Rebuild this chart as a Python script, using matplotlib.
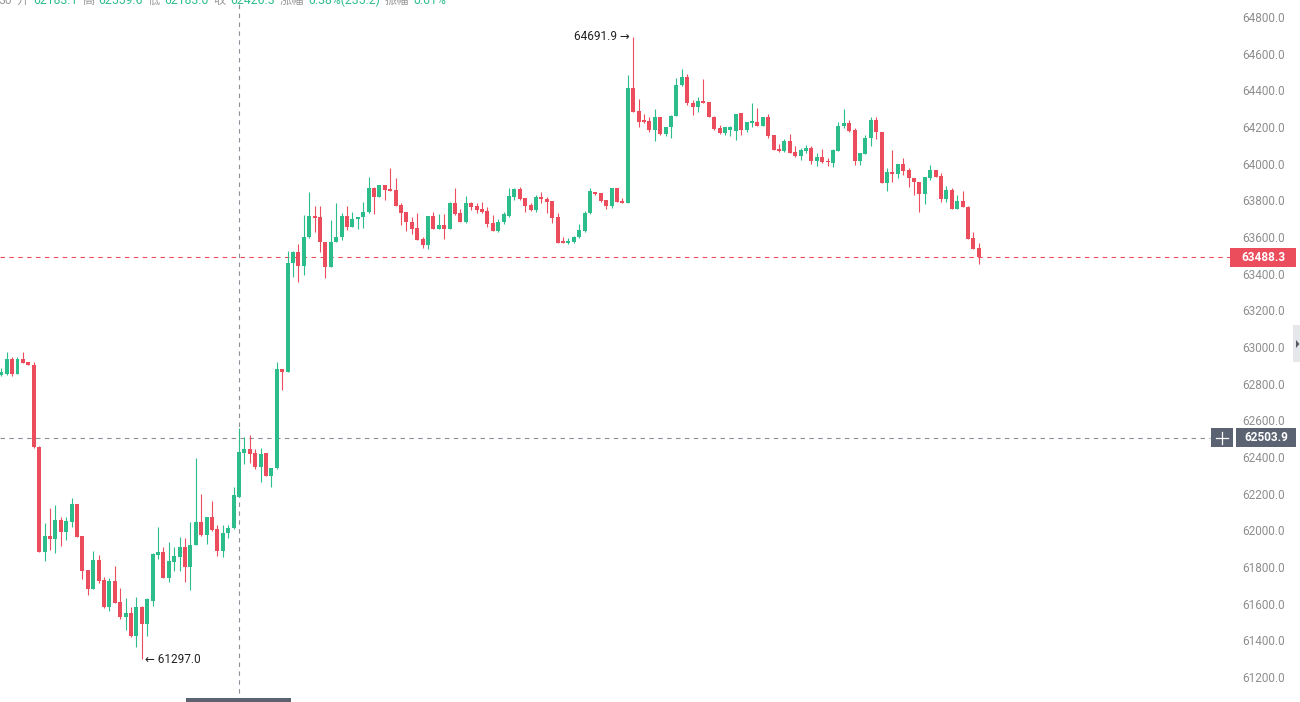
import matplotlib
matplotlib.use("Agg")
import matplotlib.pyplot as plt
import matplotlib.transforms as mtransforms
from matplotlib.patches import Rectangle, Polygon
from matplotlib.lines import Line2D
import numpy as np

# ---------------- data ----------------
opens = [62847, 62853, 62935, 62853, 62935, 62918, 62902, 62455, 61882, 61969,
         61953, 62056, 61991, 62045, 62144, 61969, 61784, 61680, 61838, 61729,
         61582, 61724, 61609, 61527, 61549, 61424, 61582, 61489, 61615, 61865,
         61882, 61740, 61827, 61855, 61909, 61800, 61920, 62045, 61975, 62073,
         62007, 61887, 61985, 62013, 62183.1, 62422, 62444, 62422, 62345, 62422,
         62296, 62340, 62880, 62864, 63458, 63518, 63442, 63600, 63714, 63709,
         63573, 63436, 63573, 63600, 63714, 63654, 63698, 63709, 63736, 63867,
         63818, 63884, 63862, 63856, 63775, 63736, 63682, 63649, 63589, 63556,
         63714, 63644, 63665, 63644, 63785, 63731, 63682, 63785, 63769, 63753,
         63742, 63676, 63633, 63682, 63714, 63818, 63862, 63813, 63775, 63747,
         63818, 63807, 63796, 63709, 63578, 63567, 63573, 63600, 63633, 63731,
         63845, 63840, 63802, 63769, 63867, 63796, 63785, 64413, 64287, 64238,
         64233, 64184, 64255, 64162, 64200, 64260, 64429, 64473, 64331, 64309,
         64342, 64336, 64255, 64195, 64167, 64184, 64178, 64276, 64184, 64222,
         64227, 64205, 64255, 64156, 64080, 64069, 64124, 64064, 64042, 64069,
         64085, 64015, 64036, 64015, 64004, 64069, 64205, 64222, 64184, 64015,
         64053, 64140, 64238, 64173, 63894, 63954, 63944, 63998, 63965, 63922,
         63900, 63834, 63922, 63965, 63933, 63807, 63856, 63753, 63796, 63764,
         63594, 63540]

highs = [62885, 62973, 62945, 62945, 62973, 62920, 62918, 62460, 62040, 62122,
         62138, 62073, 62073, 62176, 62146, 61971, 61786, 61887, 61865, 61745,
         61740, 61805, 61685, 61631, 61582, 61636, 61587, 61631, 61876, 62018,
         61909, 61936, 61909, 61964, 61958, 62045, 62395, 62198, 62073, 62160,
         62029, 62029, 62029, 62236, 62559.6, 62509, 62520, 62444, 62449, 62424,
         62340, 62918, 62882, 63524, 63524, 63562, 63720, 63845, 63769, 63769,
         63575, 63693, 63785, 63731, 63769, 63736, 63709, 63791, 63927, 63873,
         63884, 63886, 63976, 63922, 63785, 63738, 63709, 63731, 63600, 63714,
         63736, 63725, 63725, 63791, 63867, 63753, 63824, 63791, 63785, 63791,
         63764, 63720, 63698, 63736, 63867, 63867, 63873, 63815, 63785, 63829,
         63845, 63818, 63798, 63731, 63600, 63594, 63605, 63671, 63742, 63867,
         63847, 63842, 63804, 63867, 63869, 63813, 64484, 64691.9, 64353, 64271,
         64255, 64298, 64257, 64200, 64265, 64467, 64516, 64489, 64347, 64364,
         64462, 64338, 64260, 64211, 64200, 64205, 64271, 64278, 64227, 64331,
         64304, 64255, 64271, 64158, 64107, 64135, 64162, 64096, 64085, 64102,
         64096, 64058, 64080, 64031, 64080, 64227, 64298, 64238, 64195, 64058,
         64156, 64255, 64255, 64175, 63976, 64075, 63998, 64031, 63976, 63924,
         63902, 63927, 63993, 63967, 63949, 63878, 63867, 63829, 63851, 63769,
         63627, 63567]

lows = [62842, 62847, 62842, 62850, 62913, 62902, 62449, 61882, 61833, 61893,
        61876, 61915, 61947, 62018, 61964, 61735, 61647, 61678, 61713, 61576,
        61560, 61604, 61516, 61456, 61418, 61364, 61297.0, 61424, 61587, 61844,
        61740, 61718, 61778, 61778, 61718, 61675, 61918, 61969, 61925, 61996,
        61860, 61855, 61958, 62007, 62183.0, 62362, 62367, 62335, 62264, 62296,
        62236, 62335, 62765, 62862, 63382, 63354, 63393, 63594, 63627, 63518,
        63376, 63434, 63571, 63584, 63638, 63652, 63644, 63649, 63731, 63725,
        63816, 63802, 63851, 63769, 63665, 63633, 63616, 63584, 63540, 63534,
        63644, 63642, 63589, 63642, 63720, 63682, 63676, 63747, 63731, 63731,
        63654, 63633, 63627, 63671, 63709, 63802, 63802, 63736, 63742, 63736,
        63785, 63731, 63676, 63567, 63565, 63562, 63567, 63594, 63627, 63725,
        63829, 63791, 63753, 63758, 63791, 63785, 63783, 64282, 64200, 64222,
        64173, 64124, 64156, 64151, 64140, 64258, 64424, 64320, 64265, 64282,
        64329, 64255, 64184, 64162, 64156, 64151, 64129, 64156, 64173, 64200,
        64205, 64203, 64140, 64075, 64064, 64064, 64058, 64036, 64020, 64058,
        63998, 63987, 64004, 63987, 63982, 64067, 64195, 64173, 63993, 63993,
        64051, 64096, 64135, 63894, 63851, 63900, 63922, 63938, 63873, 63829,
        63736, 63780, 63911, 63927, 63791, 63791, 63753, 63751, 63764, 63589,
        63534, 63453]

closes = [62864, 62935, 62853, 62935, 62913, 62902, 62455, 61882, 61969, 61953,
          62056, 61991, 62051, 62144, 61964, 61778, 61680, 61838, 61724, 61582,
          61724, 61604, 61527, 61549, 61424, 61582, 61489, 61625, 61871, 61882,
          61740, 61833, 61860, 61909, 61800, 61920, 62045, 61975, 62073, 62002,
          61887, 61985, 62013, 62191.1, 62426.3, 62444, 62416, 62345, 62416, 62296,
          62340, 62880, 62864, 63458, 63518, 63442, 63600, 63714, 63704, 63573,
          63436, 63573, 63600, 63714, 63654, 63698, 63709, 63736, 63867, 63818,
          63884, 63856, 63851, 63769, 63731, 63682, 63644, 63584, 63556, 63714,
          63644, 63665, 63644, 63785, 63725, 63682, 63785, 63764, 63747, 63736,
          63671, 63633, 63682, 63725, 63824, 63862, 63807, 63769, 63747, 63818,
          63807, 63791, 63704, 63567, 63567, 63578, 63600, 63638, 63731, 63851,
          63834, 63796, 63769, 63867, 63791, 63785, 64413, 64282, 64227, 64227,
          64184, 64255, 64162, 64200, 64260, 64429, 64473, 64331, 64309, 64342,
          64331, 64255, 64189, 64167, 64200, 64200, 64271, 64184, 64227, 64233,
          64205, 64255, 64151, 64075, 64069, 64124, 64058, 64042, 64075, 64085,
          64015, 64036, 64009, 64007, 64075, 64205, 64222, 64178, 64015, 64058,
          64140, 64238, 64173, 63894, 63954, 63944, 63998, 63960, 63922, 63900,
          63834, 63927, 63965, 63927, 63807, 63856, 63753, 63796, 63764, 63589,
          63534, 63488.3]

y_ticks = [61200, 61400, 61600, 61800, 62000, 62200, 62400, 62600, 62800,
           63000, 63200, 63400, 63600, 63800, 64000, 64200, 64400, 64600, 64800]

last_price = 63488.3
cross_price = 62503.9
cross_index = 44
max_index, max_price = 117, 64691.9
min_index, min_price = 26, 61297.0

header_parts = [("30", "grey"), ("开", "grey"), ("62183.1", "green"),
                ("高", "grey"), ("62559.6", "green"), ("低", "grey"),
                ("62183.0", "green"), ("收", "grey"), ("62426.3", "green"),
                ("涨幅", "grey"), ("0.38%(235.2)", "green"),
                ("振幅", "grey"), ("0.61%", "green")]

# ---------------- style ----------------
GREEN = "#2dbd8a"
RED = "#eb4d5c"
GREY_TXT = "#8e8e8e"
CROSS = "#8a8f99"
BOX_GREY = "#5b6271"
FONT = ["Roboto", "DejaVu Sans"]
CJK = ["Noto Sans CJK SC", "DejaVu Sans"]

W, H = 1300, 702
fig = plt.figure(figsize=(W / 100, H / 100), dpi=100)
fig.patch.set_facecolor("white")
plot_right = 1230
ax = fig.add_axes([0, 0, plot_right / W, 1])
ax.set_facecolor("white")
ax.set_xlim(-0.24, 227.5)
ymin, ymax = 61063.6, 64892.7
ax.set_ylim(ymin, ymax)
ppx = (ymax - ymin) / H  # price per pixel

o = np.array(opens, float)
h = np.array(highs, float)
l = np.array(lows, float)
c = np.array(closes, float)
x = np.arange(len(o))
up = c >= o
cols = np.where(up, GREEN, RED)

ax.vlines(x, l, h, colors=cols, linewidth=0.8, zorder=2)
body_bottom = np.minimum(o, c)
body_h = np.maximum(np.abs(c - o), 1.2 * ppx)
ax.bar(x, body_h, bottom=body_bottom, width=0.74, color=cols, linewidth=0, zorder=3)

# dashed guides
ax.axhline(last_price, color=RED, lw=0.8, ls=(0, (4, 4)), zorder=1)
ax.axhline(cross_price, xmax=1210 / plot_right, color=CROSS, lw=0.8, ls=(0, (4, 4)), zorder=1)
ax.axvline(cross_index, color=CROSS, lw=0.8, ls=(0, (4, 4)), zorder=1)

# axes
for s in ax.spines.values():
    s.set_visible(False)
ax.set_xticks([])
ax.yaxis.tick_right()
ax.set_yticks(y_ticks)
ax.set_yticklabels([f"{v:.1f}" for v in y_ticks])
ax.tick_params(axis="y", length=0, pad=8.6, labelsize=8.5, labelcolor=GREY_TXT)
for t in ax.get_yticklabels():
    t.set_family(FONT)

# high / low annotations
ax.annotate(f"{max_price:.1f} →", xy=(max_index, max_price), xytext=(-3, 0),
            textcoords="offset pixels", ha="right", va="center",
            fontsize=8.5, color="#222222", family=FONT, zorder=6)
ax.annotate(f"← {min_price:.1f}", xy=(min_index, min_price), xytext=(3, 0),
            textcoords="offset pixels", ha="left", va="center",
            fontsize=8.5, color="#222222", family=FONT, zorder=6)

# price label boxes on the right axis
trans = mtransforms.blended_transform_factory(fig.transFigure, ax.transData)
box_h = 19 * ppx
fig.add_artist(Rectangle((1230 / W, last_price - box_h / 2), 66 / W, box_h,
                         transform=trans, fc=RED, ec="none", zorder=5))
fig.text(1263 / W, last_price, f"{last_price:.1f}", transform=trans, ha="center",
         va="center", color="white", fontsize=8.5, fontweight="bold", family=FONT, zorder=6)

fig.add_artist(Rectangle((1236 / W, cross_price - box_h / 2), 60 / W, box_h,
                         transform=trans, fc=BOX_GREY, ec="none", zorder=5))
fig.text(1266 / W, cross_price, f"{cross_price:.1f}", transform=trans, ha="center",
         va="center", color="white", fontsize=8.5, fontweight="bold", family=FONT, zorder=6)
fig.add_artist(Rectangle((1211 / W, cross_price - box_h / 2), 22 / W, box_h,
                         transform=trans, fc=BOX_GREY, ec="none", zorder=5))
fig.add_artist(Line2D([1216 / W, 1228 / W], [cross_price, cross_price], transform=trans,
                      color="white", lw=0.9, zorder=6))
fig.add_artist(Line2D([1222 / W, 1222 / W], [cross_price - 6 * ppx, cross_price + 6 * ppx],
                      transform=trans, color="white", lw=0.9, zorder=6))

# bottom scrollbar and right-side tab
fig.add_artist(Rectangle((186 / W, 0), 105 / W, 4.5 / H, transform=fig.transFigure,
                         fc="#5d636e", ec="none", zorder=5))
fig.add_artist(Rectangle((1293 / W, 1 - 362 / H), 7 / W, 37 / H, transform=fig.transFigure,
                         fc="#e6e7ea", ec="none", zorder=5))
fig.add_artist(Polygon([[1296 / W, 1 - 340 / H], [1296 / W, 1 - 348 / H], [1299.5 / W, 1 - 344 / H]],
                       closed=True, transform=fig.transFigure, fc="#555a63", ec="none", zorder=6))

# header (cut off at the top edge, as in the reference)
hdr_colors = {"grey": "#9a9a9a", "green": GREEN}
prev = None
renderer = fig.canvas.get_renderer()
for txt, col in header_parts:
    fam = CJK if any(ord(ch) > 0x2E80 for ch in txt) else FONT
    if prev is None:
        prev = fig.text(-2 / W, 1 - 7 / H, txt, ha="left", va="bottom", fontsize=8.8,
                        color=hdr_colors[col], family=fam)
    else:
        prev = fig.text(0, 0, txt, ha="left", va="bottom", fontsize=8.8,
                        color=hdr_colors[col], family=fam,
                        transform=mtransforms.offset_copy(
                            mtransforms.BboxTransformTo(prev.get_window_extent(renderer)),
                            fig=fig, x=4.5, y=0, units="dots"))
        prev.set_position((1, 0))

fig.savefig("out.png", dpi=100, facecolor="white")
